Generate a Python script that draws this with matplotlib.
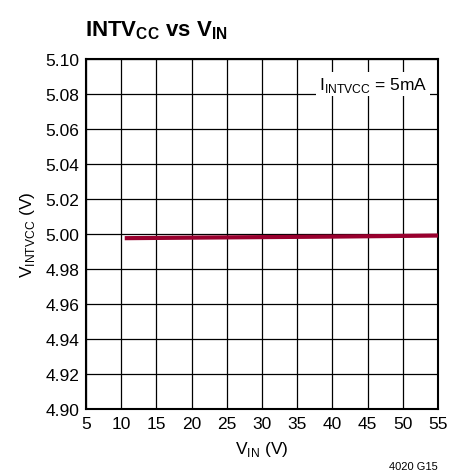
import numpy as np
import matplotlib
matplotlib.use('Agg')
import matplotlib.pyplot as plt

plt.rcParams['font.family'] = ['Liberation Sans', 'DejaVu Sans']
plt.rcParams['mathtext.fontset'] = 'custom'
plt.rcParams['mathtext.rm'] = 'Liberation Sans'
plt.rcParams['mathtext.bf'] = 'Liberation Sans:weight=bold'

vin = [10.5, 20, 30, 40, 50, 55]
vintvcc = [4.9976, 4.9979, 4.9982, 4.9985, 4.9989, 4.9991]

xticks = np.arange(5, 56, 5)
yticks = np.arange(4.90, 5.101, 0.02)

fig = plt.figure(figsize=(4.61, 4.77), dpi=100)
ax = fig.add_axes([0.1866, 0.1405, 0.7636, 0.7338])

ax.plot(vin, vintvcc, color='#99002e', lw=3, solid_capstyle='butt', zorder=3)

ax.set_xlim(5, 55)
ax.set_ylim(4.90, 5.10)
ax.set_xticks(xticks)
ax.set_yticks(yticks)
ax.set_yticklabels(['%.2f' % v for v in yticks])
ax.grid(True, color='black', lw=0.9)
ax.tick_params(length=0, labelsize=12.5, pad=5)
for s in ax.spines.values():
    s.set_linewidth(1.5)

ax.set_xlabel(r'V$_{\mathregular{IN}}$ (V)', fontsize=12.5, labelpad=6)
ax.set_ylabel(r'V$_{\mathregular{INTVCC}}$ (V)', fontsize=12.5, labelpad=6)

ax.text(0.97, 0.955, r'I$_{\mathregular{INTVCC}}$ = 5mA', transform=ax.transAxes,
        ha='right', va='top', fontsize=12.5,
        bbox=dict(facecolor='white', edgecolor='none', pad=2))

fig.text(0.185, 0.935, r'INTV$_{\mathbf{CC}}$ vs V$_{\mathbf{IN}}$',
         fontsize=16, fontweight='bold', ha='left', va='center')
fig.text(0.95, 0.01, '4020 G15', fontsize=8, ha='right', va='bottom')

plt.savefig('out.png', dpi=100)
